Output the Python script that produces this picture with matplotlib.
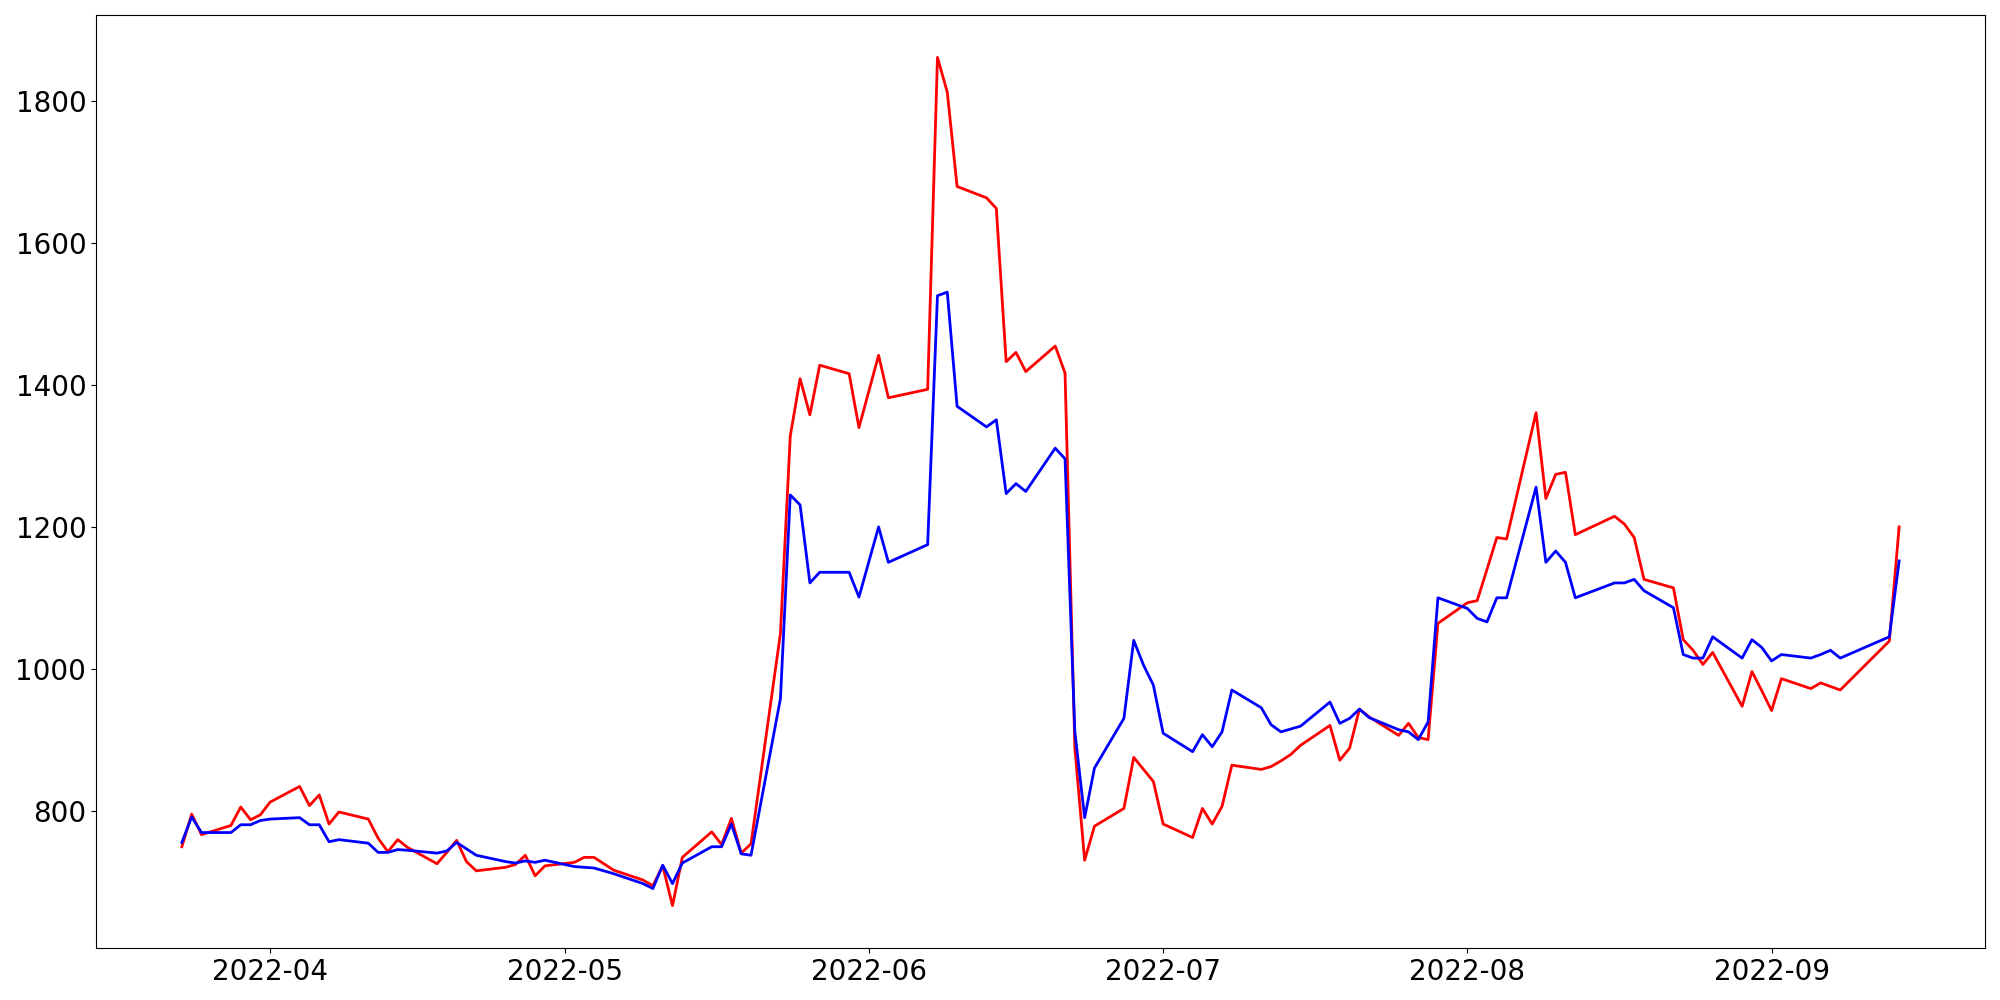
import pandas as pd
import matplotlib
matplotlib.use("Agg")
import matplotlib.pyplot as plt

dates = [
    "2022-03-23", "2022-03-24", "2022-03-25", "2022-03-28", "2022-03-29", "2022-03-30", "2022-03-31",
    "2022-04-01", "2022-04-04", "2022-04-05", "2022-04-06", "2022-04-07", "2022-04-08", "2022-04-11",
    "2022-04-12", "2022-04-13", "2022-04-14", "2022-04-15", "2022-04-18", "2022-04-19", "2022-04-20",
    "2022-04-21", "2022-04-22", "2022-04-25", "2022-04-26", "2022-04-27", "2022-04-28", "2022-04-29",
    "2022-05-02", "2022-05-03", "2022-05-04", "2022-05-06", "2022-05-09", "2022-05-10", "2022-05-11",
    "2022-05-12", "2022-05-13", "2022-05-16", "2022-05-17", "2022-05-18", "2022-05-19", "2022-05-20",
    "2022-05-23", "2022-05-24", "2022-05-25", "2022-05-26", "2022-05-27", "2022-05-30", "2022-05-31",
    "2022-06-02", "2022-06-03", "2022-06-07", "2022-06-08", "2022-06-09", "2022-06-10", "2022-06-13",
    "2022-06-14", "2022-06-15", "2022-06-16", "2022-06-17", "2022-06-20", "2022-06-21", "2022-06-22",
    "2022-06-23", "2022-06-24", "2022-06-27", "2022-06-28", "2022-06-29", "2022-06-30", "2022-07-01",
    "2022-07-04", "2022-07-05", "2022-07-06", "2022-07-07", "2022-07-08", "2022-07-11", "2022-07-12",
    "2022-07-13", "2022-07-14", "2022-07-15", "2022-07-18", "2022-07-19", "2022-07-20", "2022-07-21",
    "2022-07-22", "2022-07-25", "2022-07-26", "2022-07-27", "2022-07-28", "2022-07-29", "2022-08-01",
    "2022-08-02", "2022-08-03", "2022-08-04", "2022-08-05", "2022-08-08", "2022-08-09", "2022-08-10",
    "2022-08-11", "2022-08-12", "2022-08-16", "2022-08-17", "2022-08-18", "2022-08-19", "2022-08-22",
    "2022-08-23", "2022-08-24", "2022-08-25", "2022-08-26", "2022-08-29", "2022-08-30", "2022-08-31",
    "2022-09-01", "2022-09-02", "2022-09-05", "2022-09-06", "2022-09-07", "2022-09-08", "2022-09-13",
    "2022-09-14",
]

red_values = [
    749, 795, 766, 779, 805, 787, 794,
    812, 834, 807, 822, 781, 798, 788,
    761, 742, 759, 748, 725, 741, 758,
    728, 715, 720, 724, 737, 708, 722,
    727, 734, 734, 716, 702, 694, 722,
    666, 734, 770, 752, 789, 740, 753,
    1050, 1328, 1409, 1358, 1428, 1416, 1340,
    1442, 1382, 1394, 1862, 1813, 1680, 1664,
    1649, 1433, 1446, 1419, 1455, 1417, 888,
    730, 778, 803, 875, 858, 841, 781,
    762, 803, 781, 806, 864, 858, 862,
    870, 879, 892, 920, 871, 888, 943,
    932, 906, 923, 903, 900, 1064, 1093,
    1096, 1140, 1185, 1183, 1361, 1240, 1274,
    1277, 1189, 1215, 1204, 1185, 1126, 1114,
    1041, 1026, 1006, 1023, 947, 996, 969,
    941, 986, 972, 980, 975, 970, 1039,
    1200,
]

blue_values = [
    755, 791, 769, 769, 780, 780, 786,
    788, 790, 780, 780, 756, 759, 754,
    741, 741, 745, 744, 740, 743, 755,
    746, 737, 728, 726, 729, 727, 730,
    721, 720, 719, 711, 697, 690, 723,
    697, 726, 749, 749, 781, 739, 737,
    958, 1245, 1231, 1121, 1136, 1136, 1101,
    1200, 1150, 1175, 1526, 1531, 1370, 1341,
    1351, 1247, 1261, 1250, 1311, 1296, 911,
    790, 860, 930, 1040, 1005, 977, 909,
    883, 907, 890, 911, 970, 945, 921,
    911, 915, 919, 953, 923, 930, 943,
    931, 914, 911, 900, 925, 1100, 1085,
    1071, 1066, 1100, 1100, 1256, 1150, 1166,
    1150, 1100, 1121, 1121, 1126, 1110, 1086,
    1020, 1015, 1015, 1045, 1015, 1041, 1030,
    1011, 1020, 1015, 1020, 1026, 1015, 1045,
    1152,
]

x = pd.to_datetime(dates)

fig, ax = plt.subplots(figsize=(20, 10), dpi=100)
ax.plot(x, red_values, color="red", linewidth=2)
ax.plot(x, blue_values, color="blue", linewidth=2)

ax.tick_params(axis="both", labelsize=20)
plt.subplots_adjust(left=0.048, right=0.9925, top=0.985, bottom=0.052)

plt.savefig("out.png")
